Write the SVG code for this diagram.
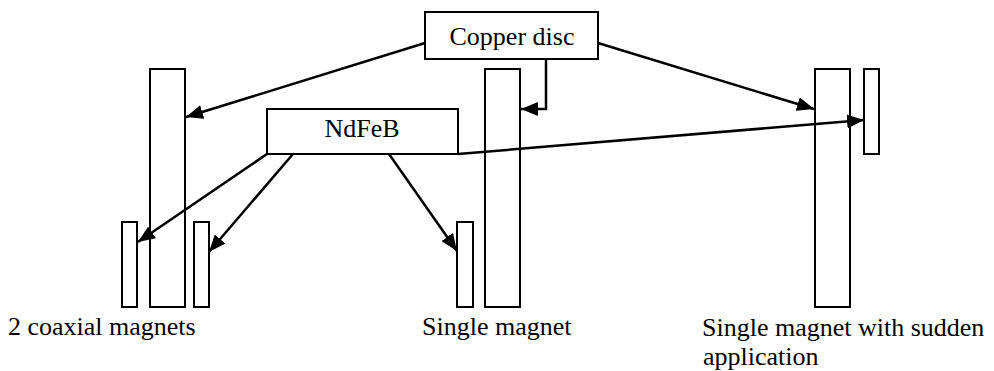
<svg xmlns="http://www.w3.org/2000/svg" width="994" height="371" viewBox="0 0 994 371">
<style>
.shape{fill:#fff;stroke:#000;stroke-width:2}
.lbl{font-family:"Liberation Serif","Times New Roman",serif;font-size:26px;fill:#000}
.mid{text-anchor:middle}
.conn{fill:none;stroke:#000;stroke-width:2.5}
</style>
<defs>
<marker id="arr" markerUnits="userSpaceOnUse" markerWidth="18" markerHeight="14" refX="17" refY="7" orient="auto">
<path d="M0,0 L17,7 L0,14 z" fill="#000"/>
</marker>
</defs>
<rect width="994" height="371" fill="#fff"/>
<g id="disc-left"><rect class="shape" x="150" y="69" width="35" height="238"/></g>
<g id="magnet-left-a"><rect class="shape" x="122" y="222" width="15" height="85"/></g>
<g id="magnet-left-b"><rect class="shape" x="194" y="222" width="15" height="85"/></g>
<g id="magnet-mid"><rect class="shape" x="457" y="222" width="16" height="85"/></g>
<g id="disc-mid"><rect class="shape" x="485" y="69" width="35" height="238"/></g>
<g id="disc-right"><rect class="shape" x="815" y="69" width="35" height="238"/></g>
<g id="magnet-right"><rect class="shape" x="864" y="69" width="15" height="85"/></g>
<g id="copper-disc"><rect class="shape" x="425" y="12" width="173" height="47"/><text class="lbl mid" x="512" y="45">Copper disc</text></g>
<g id="ndfeb"><rect class="shape" x="267" y="109" width="191" height="45"/><text class="lbl mid" x="362" y="137">NdFeB</text></g>
<g id="connectors">
<path class="conn" d="M425,43 L186,117" marker-end="url(#arr)"/>
<path class="conn" d="M546,59 L546,109 L521,109" marker-end="url(#arr)"/>
<path class="conn" d="M598,43 L814,109" marker-end="url(#arr)"/>
<path class="conn" d="M458,154 L864,120" marker-end="url(#arr)"/>
<path class="conn" d="M267,154 L138,242" marker-end="url(#arr)"/>
<path class="conn" d="M293,154 L209,252" marker-end="url(#arr)"/>
<path class="conn" d="M389,154 L457,251" marker-end="url(#arr)"/>
</g>
<g id="labels">
<text class="lbl" x="8" y="335">2 coaxial magnets</text>
<text class="lbl" x="422" y="335">Single magnet</text>
<text class="lbl" x="702" y="336">Single magnet with sudden</text>
<text class="lbl" x="703" y="365">application</text>
</g>
</svg>
